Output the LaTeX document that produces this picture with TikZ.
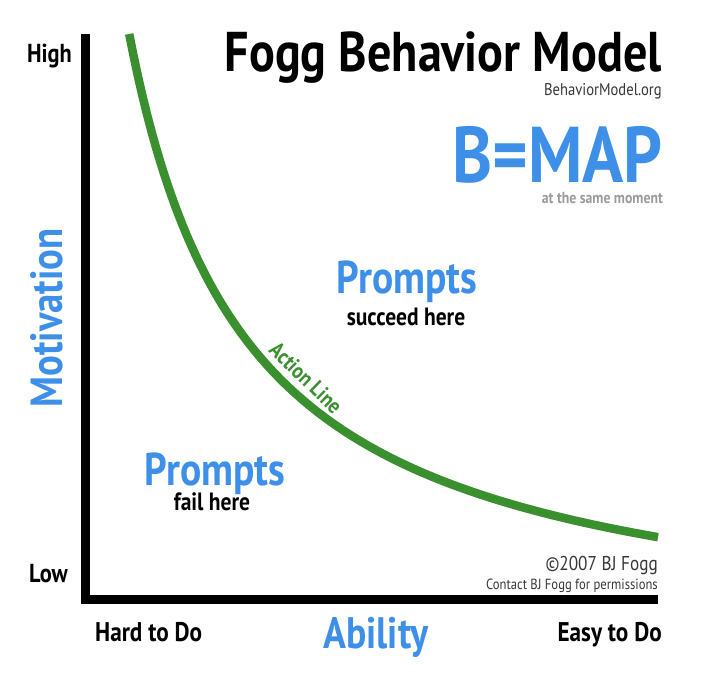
\documentclass[tikz,border=0pt]{standalone}
\usepackage{fontspec}
\setmainfont[FakeStretch=0.86]{PT Sans}
\definecolor{fbmblue}{RGB}{61,143,232}
\definecolor{fbmgreen}{RGB}{58,143,46}
\definecolor{fbmgray}{RGB}{155,155,155}
\definecolor{fbmdark}{RGB}{55,55,55}
\tikzset{
  lbl/.style={inner sep=0pt, font=\bfseries\fontsize{#1}{#1}\selectfont},
  note/.style={inner sep=0pt, font=\fontsize{#1}{#1}\selectfont},
  axis/.style={line width=8.5pt},
  actionline/.style={line width=8.5pt, fbmgreen},
}
\begin{document}
\begin{tikzpicture}[x=1pt, y=-1pt]
	\useasboundingbox (0,0) rectangle (711,675);

	% axes
	\coordinate (top) at (85.5,34);
	\coordinate (origin) at (85.5,599.5);
	\coordinate (right) at (658,599.5);
	\draw[axis] (top) -- (origin |- 0,603.75);
	\draw[axis] (81.25,599.5) -- (right);

	% action line
	\draw[actionline] plot[domain=129.2:658, samples=120] (\x, {650 - 730.62/((\x-10.6)/100)});
	\node[lbl=22, fbmgreen, rotate=-44] (action) at (306,378) {Action Line};

	% axis labels
	\node[lbl=26, anchor=base east] (high) at (72,62) {High};
	\node[lbl=26, anchor=base east] (low) at (68,582) {Low};
	\node[lbl=27, anchor=base west] (hard) at (95,641) {Hard to Do};
	\node[lbl=27, anchor=base east] (easy) at (662,641) {Easy to Do};
	\node[lbl=44, fbmblue, anchor=base] (ability) at (376,648) {Ability};
	\node[lbl=45, fbmblue, anchor=base, rotate=90] (motivation) at (62,318) {Motivation};

	% title
	\node[lbl=56, anchor=base east] (title) at (662,71) {Fogg Behavior Model};
	\node[note=17, fbmdark, anchor=base east] (site) at (662,95) {BehaviorModel.org};
	\node[lbl=79, fbmblue, anchor=base east] (bmap) at (663,182) {B=MAP};
	\node[lbl=16, fbmgray, anchor=base east] (moment) at (663,203) {at the same moment};

	% regions
	\node[lbl=46, fbmblue, anchor=base] (succeed) at (407,293) {Prompts};
	\node[lbl=25, anchor=base] (succeedtxt) at (406,325) {succeed here};
	\node[lbl=46, fbmblue, anchor=base] (fail) at (215,485) {Prompts};
	\node[lbl=25, anchor=base] (failtxt) at (212,510) {fail here};

	% credits
	\node[note=20, fbmdark, anchor=base east] (copy) at (658,570) {©2007 BJ Fogg};
	\node[note=14.7, fbmdark, anchor=base east] (contact) at (658,589) {Contact BJ Fogg for permissions};
\end{tikzpicture}
\end{document}
